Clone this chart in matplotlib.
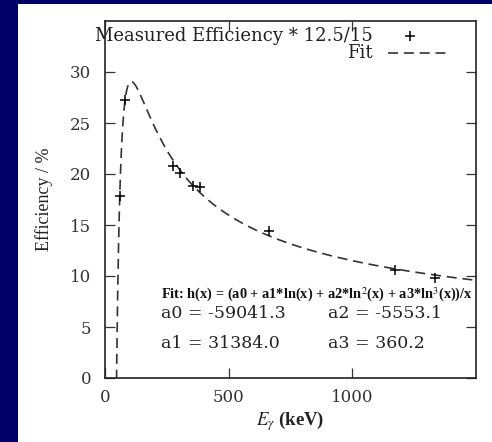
import numpy as np
import matplotlib
matplotlib.use("Agg")
import matplotlib.pyplot as plt
from matplotlib.patches import Rectangle
from matplotlib.lines import Line2D

# Data
energy_keV = [59.5, 81.0, 276.4, 302.9, 356.0, 383.8, 661.7, 1173.2, 1332.5]
efficiency = [17.8, 27.3, 20.8, 20.1, 18.85, 18.7, 14.45, 10.55, 9.8]

# Fit parameters printed on the chart
a0, a1, a2, a3 = -59041.3, 31384.0, -5553.1, 360.2

x_ticks = [0, 500, 1000]
y_ticks = [0, 5, 10, 15, 20, 25, 30]

plt.rcParams['font.family'] = ['DejaVu Serif']
plt.rcParams['mathtext.fontset'] = 'stix'

fig = plt.figure(figsize=(4.92, 4.42), dpi=100)
fig.patch.set_facecolor('#000066')
fig.patches.append(Rectangle((18/492, 0), 1 - 18/492, 1 - 4/442,
                             transform=fig.transFigure, facecolor='white',
                             edgecolor='none', zorder=-5))

ax = fig.add_axes([105/492, 1 - 378/442, 371/492, 357/442])
ax.set_facecolor('white')

xf = np.linspace(40, 1500, 800)
lx = np.log(xf)
hf = (a0 + a1*lx + a2*lx**2 + a3*lx**3) / xf
ax.plot(xf, hf, color='#333333', lw=1.2, dashes=(6, 3.5), zorder=2)
ax.plot(energy_keV, efficiency, linestyle='none', marker='+', ms=7,
        mew=1.1, color='black', zorder=3)

ax.set_xlim(0, 1500)
ax.set_ylim(0, 35)
ax.set_xticks(x_ticks)
ax.set_yticks(y_ticks)
ax.tick_params(direction='in', top=True, right=True, length=7, width=0.9,
               labelsize=12, colors='#333333', labelcolor='#333333')
ax.tick_params(axis='y', pad=10)
ax.tick_params(axis='x', pad=8)
for s in ax.spines.values():
    s.set_linewidth(1.2)
    s.set_color('#222222')

ax.set_ylabel('Efficiency / %', fontsize=13, color='#222222', labelpad=12,
              family='Liberation Serif')
ax.set_xlabel(r'$\mathit{E}_{\gamma}$ (keV)', fontsize=13.5, color='#222222',
              labelpad=2, family='Liberation Serif', fontweight='bold')

# Legend (gnuplot style: text then sample)
fig.text(373/492, 1 - 36/442, 'Measured Efficiency * 12.5/15', ha='right',
         va='center', fontsize=13, color='#222222')
fig.text(373/492, 1 - 53/442, 'Fit', ha='right', va='center', fontsize=13,
         color='#222222')
fig.lines.append(Line2D([410/492], [1 - 36/442], marker='+', ms=6.5, mew=1.1,
                        color='black', transform=fig.transFigure))
fig.lines.append(Line2D([388/492, 450/492], [1 - 53/442, 1 - 53/442],
                        color='#333333', lw=1.2, dashes=(6, 3.5),
                        transform=fig.transFigure))

fig.text(161/492, 1 - 295/442,
         r'Fit: h(x) = (a0 + a1*ln(x) + a2*ln$^2$(x) + a3*ln$^3$(x))/x',
         ha='left', va='center', fontsize=10.4, color='#111111',
         fontweight='bold', family='Liberation Serif')
fig.text(161/492, 1 - 314/442, 'a0 = -59041.3', ha='left', va='center',
         fontsize=12.5, color='#222222')
fig.text(328/492, 1 - 314/442, 'a2 = -5553.1', ha='left', va='center',
         fontsize=12.5, color='#222222')
fig.text(161/492, 1 - 343/442, 'a1 = 31384.0', ha='left', va='center',
         fontsize=12.5, color='#222222')
fig.text(328/492, 1 - 343/442, 'a3 = 360.2', ha='left', va='center',
         fontsize=12.5, color='#222222')

fig.savefig('out.png', dpi=100, facecolor=fig.get_facecolor())
